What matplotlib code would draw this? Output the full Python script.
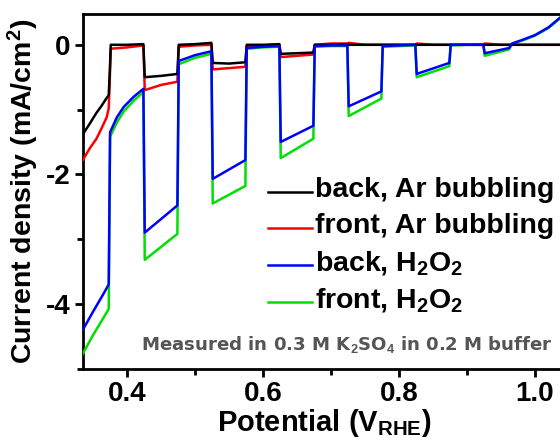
import matplotlib
matplotlib.use('Agg')
import matplotlib.pyplot as plt
from matplotlib.ticker import MultipleLocator

plt.rcParams['font.family'] = ['Liberation Sans', 'DejaVu Sans']
plt.rcParams['font.weight'] = 'bold'
plt.rcParams['axes.labelweight'] = 'bold'
plt.rcParams['mathtext.fontset'] = 'custom'
plt.rcParams['mathtext.rm'] = 'Liberation Sans:bold'
plt.rcParams['mathtext.it'] = 'Liberation Sans:bold'
plt.rcParams['mathtext.bf'] = 'Liberation Sans:bold'

# Potential (V_RHE) and current density (mA/cm2), chopped illumination
ar_x = [0.335, 0.345, 0.355, 0.362, 0.370, 0.373, 0.375, 0.376, 0.40, 0.424, 0.426,
        0.45, 0.474, 0.476, 0.50, 0.524, 0.526, 0.55, 0.574, 0.576, 0.60, 0.624,
        0.626, 0.65, 0.674, 0.676, 0.70, 0.724, 0.726, 0.75, 0.774, 0.776, 0.80,
        0.824, 0.826, 0.85, 0.874, 0.876, 0.90, 0.924, 0.926, 0.95, 0.974, 0.976,
        1.0, 1.045]
back_ar = [-1.38, -1.22, -1.05, -0.95, -0.82, -0.78, -0.30, 0.00, 0.00, 0.01, -0.50,
           -0.48, -0.45, 0.00, 0.01, 0.03, -0.28, -0.29, -0.27, 0.00, 0.00, 0.01,
           -0.14, -0.13, -0.12, 0.00, 0.00, 0.01, 0.00, 0.00, 0.00, 0.00, 0.00,
           0.00, 0.00, 0.00, 0.00, 0.00, 0.00, 0.00, 0.00, 0.00, 0.00, 0.00,
           0.00, 0.00]
front_ar = [-1.78, -1.60, -1.45, -1.30, -1.12, -0.98, -0.40, -0.06, -0.04, -0.01, -0.70,
            -0.62, -0.57, -0.03, -0.01, 0.00, -0.38, -0.36, -0.34, -0.02, -0.01, 0.00,
            -0.19, -0.17, -0.15, 0.00, 0.02, 0.02, 0.03, 0.00, 0.00, 0.00, 0.00,
            0.00, 0.02, 0.00, 0.00, 0.00, 0.00, 0.00, 0.02, 0.00, 0.00, 0.00,
            0.00, 0.00]

h2o2_x = [0.335, 0.350, 0.365, 0.373, 0.375, 0.385, 0.395, 0.41, 0.424, 0.426,
          0.474, 0.476, 0.50, 0.524, 0.526, 0.574, 0.576, 0.60, 0.624, 0.626,
          0.674, 0.676, 0.70, 0.724, 0.726, 0.774, 0.776, 0.80, 0.824, 0.826,
          0.874, 0.876, 0.90, 0.924, 0.926, 0.962, 0.966, 0.98, 1.0, 1.02,
          1.037, 1.045]
back_h2o2 = [-4.40, -4.12, -3.85, -3.70, -1.35, -1.12, -0.96, -0.80, -0.68, -2.90,
             -2.48, -0.25, -0.16, -0.10, -2.07, -1.78, -0.05, -0.03, -0.02, -1.50,
             -1.25, -0.02, -0.01, -0.01, -0.95, -0.72, -0.02, -0.01, 0.00, -0.45,
             -0.28, 0.00, 0.00, 0.00, -0.13, -0.05, 0.02, 0.07, 0.15, 0.27,
             0.42, 0.50]
front_h2o2 = [-4.77, -4.48, -4.22, -4.08, -1.42, -1.20, -1.03, -0.86, -0.73, -3.32,
              -2.92, -0.30, -0.20, -0.14, -2.45, -2.18, -0.06, -0.04, -0.03, -1.75,
              -1.45, -0.03, -0.02, -0.02, -1.10, -0.83, -0.03, -0.02, -0.01, -0.50,
              -0.33, -0.01, 0.00, 0.00, -0.17, -0.07, 0.01, 0.06, 0.14, 0.26,
              0.41, 0.49]

labels = ['back, Ar bubbling', 'front, Ar bubbling', 'back, H$_2$O$_2$', 'front, H$_2$O$_2$']
colors = ['black', 'red', 'blue', '#00e000']

fig = plt.figure(figsize=(5.6, 4.42), dpi=100)
ax = fig.add_axes([0.148, 0.166, 0.862, 0.803])

lw = 1.8
ax.plot(h2o2_x, front_h2o2, color=colors[3], lw=lw, zorder=3)
ax.plot(ar_x, front_ar, color=colors[1], lw=lw, zorder=4)
ax.plot(ar_x, back_ar, color=colors[0], lw=lw, zorder=5)
ax.plot(h2o2_x, back_h2o2, color=colors[2], lw=lw, zorder=6)

ax.set_xlim(0.335, 1.045)
ax.set_ylim(-5.0, 0.48)
ax.xaxis.set_minor_locator(MultipleLocator(0.1))
ax.yaxis.set_minor_locator(MultipleLocator(1))
ax.set_xticks([0.4, 0.6, 0.8, 1.0])
ax.set_xticklabels(['0.4', '0.6', '0.8', '1.0'])
ax.set_yticks([0, -2, -4])
ax.set_yticklabels(['0', '-2', '-4'])
ax.tick_params(which='major', direction='out', length=6, width=2, labelsize=20, pad=3)
ax.tick_params(which='minor', direction='out', length=4, width=2)
for s in ax.spines.values():
    s.set_linewidth(2)

ax.set_xlabel('Potential (V$_{RHE}$)', fontsize=21, labelpad=0)
ax.set_ylabel('Current density (mA/cm$^2$)', fontsize=20.5, labelpad=3)

# legend, drawn entry by entry so the rows are evenly spaced
row_y = [0.498, 0.396, 0.291, 0.187]
for lab, c, yy in zip(labels, colors, row_y):
    ax.plot([0.383, 0.475], [yy, yy], color=c, lw=lw, transform=ax.transAxes, clip_on=False)
    ax.text(0.481, yy - 0.015, lab, fontsize=20.5, transform=ax.transAxes, va='baseline')

ax.text(0.420, -4.62, 'Measured in 0.3 M K$_2$SO$_4$ in 0.2 M buffer', color='#555555',
        fontsize=13.1, family='DejaVu Sans', fontweight='bold', va='center')

plt.savefig('out.png', dpi=100)
